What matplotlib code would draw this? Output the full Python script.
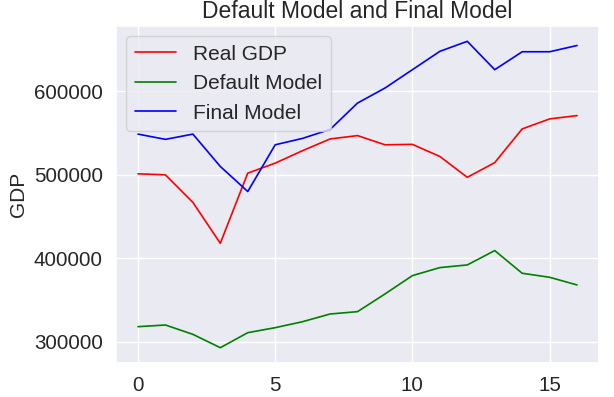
import matplotlib
matplotlib.use("Agg")
import matplotlib.pyplot as plt
import seaborn as sns
import numpy as np

x = list(range(17))
real_gdp = [501200, 500000, 467000, 417900, 502000, 514000, 529000, 543000, 547000,
            536000, 536500, 522000, 497000, 514600, 555000, 567000, 571000]
default_model = [318000, 320000, 308800, 292800, 310800, 316800, 324000, 333200, 336000,
                 357200, 379200, 388800, 392000, 409200, 382000, 377200, 368000]
final_model = [548800, 542500, 548800, 510000, 480000, 536000, 543700, 554400, 586000,
               604000, 626000, 648000, 660000, 626000, 647500, 647500, 655000]

sns.set_theme(style="darkgrid")
plt.rcParams['font.family'] = ['Liberation Sans', 'DejaVu Sans']

fig, ax = plt.subplots(figsize=(6.14, 3.97), dpi=100)
ax.plot(x, real_gdp, color="red", lw=1.2, label="Real GDP")
ax.plot(x, default_model, color="green", lw=1.2, label="Default Model")
ax.plot(x, final_model, color="blue", lw=1.2, label="Final Model")
ax.set_title("Default Model and Final Model", fontsize=16.5)
ax.set_ylabel("GDP", fontsize=15)
ax.tick_params(labelsize=14.8)
ax.set_xticks([0, 5, 10, 15])
ax.set_yticks([300000, 400000, 500000, 600000])
ax.legend(loc="upper left", fontsize=15)
fig.subplots_adjust(left=0.189, right=0.9756, top=0.9345, bottom=0.0856)
fig.savefig("out.png", dpi=100)
